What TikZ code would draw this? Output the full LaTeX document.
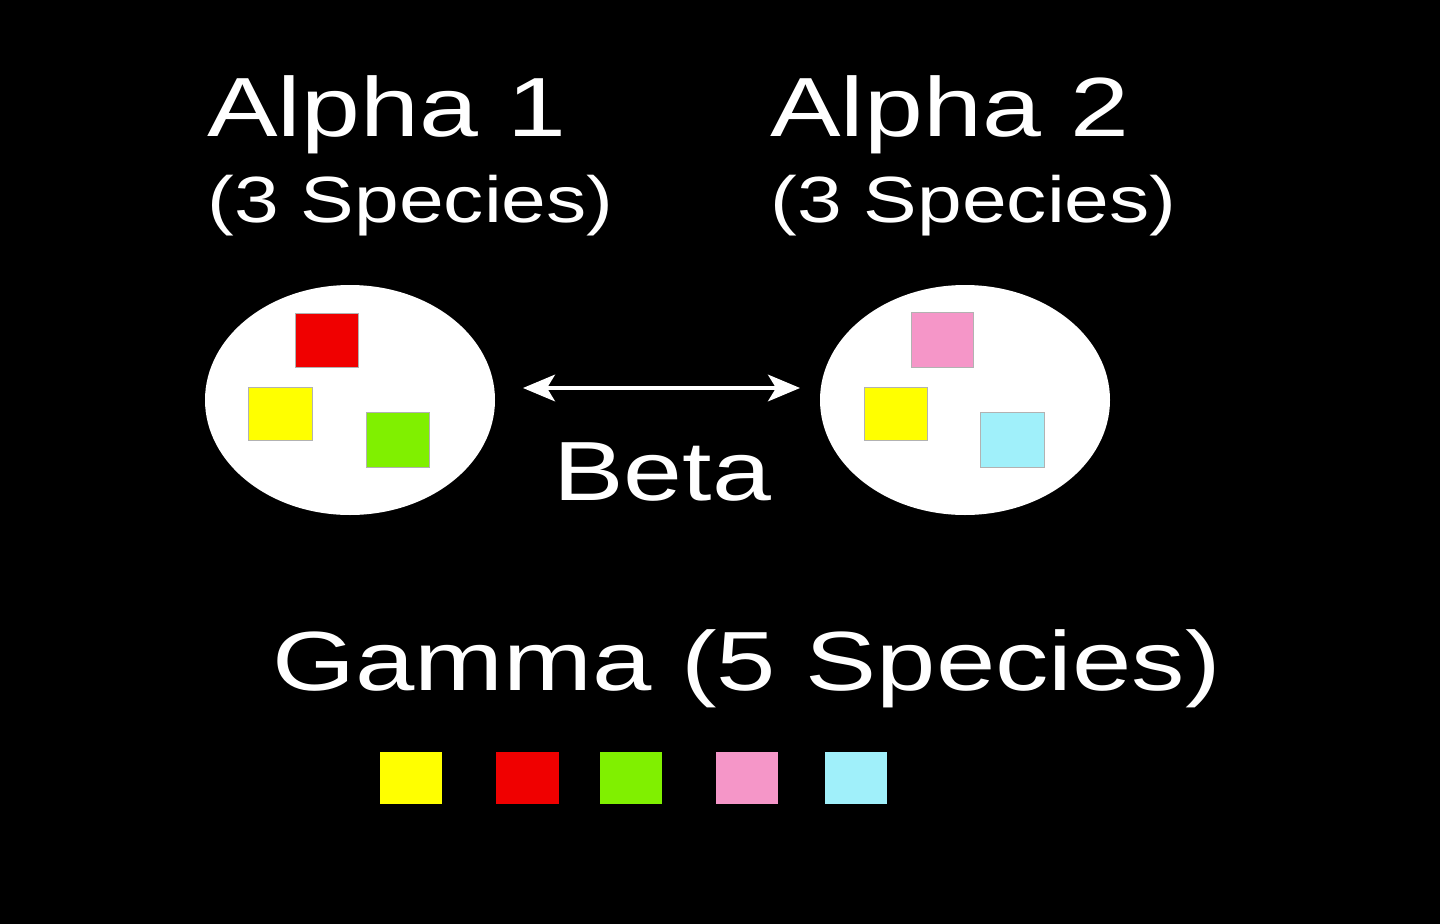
\documentclass[tikz,border=0pt]{standalone}
\usepackage{fontspec}
\usepackage{graphicx}
\setmainfont{Liberation Sans}
\usetikzlibrary{arrows.meta}
\definecolor{spYellow}{RGB}{255,255,0}
\definecolor{spRed}{RGB}{240,0,0}
\definecolor{spGreen}{RGB}{128,240,0}
\definecolor{spPink}{RGB}{245,150,200}
\definecolor{spCyan}{RGB}{160,240,250}
\newcommand{\widetxt}[2]{\scalebox{#1}[1]{#2}}
\tikzset{
  big/.style={text=white,anchor=base west,inner sep=0pt,font=\fontsize{63}{70}\selectfont},
  small/.style={text=white,anchor=base west,inner sep=0pt,font=\fontsize{49}{55}\selectfont},
  sq/.style={draw=gray!60,line width=0.4pt}
}
\begin{document}
\begin{tikzpicture}[x=0.75pt,y=0.75pt,yscale=-1,xscale=1]
    %background
    \fill[black] (0,0) rectangle (1440,924);
    \useasboundingbox (0,0) rectangle (1440,924);

    %Ellipses
    \fill[white] (350,400) ellipse [x radius=145, y radius=115];
    \fill[white] (965,400) ellipse [x radius=145, y radius=115];

    %Squares, left group
    \draw[sq,fill=spRed] (295,313) rectangle (358,367);
    \draw[sq,fill=spYellow] (248,387) rectangle (312,440);
    \draw[sq,fill=spGreen] (366,412) rectangle (429,467);
    %Squares, right group
    \draw[sq,fill=spPink] (911,312) rectangle (973,367);
    \draw[sq,fill=spYellow] (864,387) rectangle (927,440);
    \draw[sq,fill=spCyan] (980,412) rectangle (1044,467);
    %Squares, gamma row
    \fill[spYellow] (380,752) rectangle (442,804);
    \fill[spRed] (496,752) rectangle (559,804);
    \fill[spGreen] (600,752) rectangle (662,804);
    \fill[spPink] (716,752) rectangle (778,804);
    \fill[spCyan] (825,752) rectangle (887,804);

    %Beta arrow
    \coordinate (betaL) at (523,388);
    \coordinate (betaR) at (800,388);
    \draw[white,line width=2.5pt,{Stealth[length=24pt,width=20pt,inset=6pt]}-{Stealth[length=24pt,width=20pt,inset=6pt]}] (betaL) -- (betaR);

    % Text Nodes
    \node[big] (alphaA) at (207,137) {\widetxt{1.26}{Alpha 1}};
    \node[small] (spA) at (207,222) {\widetxt{1.23}{(3 Species)}};
    \node[big] (alphaB) at (770,137) {\widetxt{1.26}{Alpha 2}};
    \node[small] (spB) at (770,222) {\widetxt{1.23}{(3 Species)}};
    \node[big] (beta) at (553,500) {\widetxt{1.26}{Beta}};
    \node[big] (gamma) at (272,690) {\widetxt{1.27}{Gamma (5 Species)}};
\end{tikzpicture}
\end{document}
